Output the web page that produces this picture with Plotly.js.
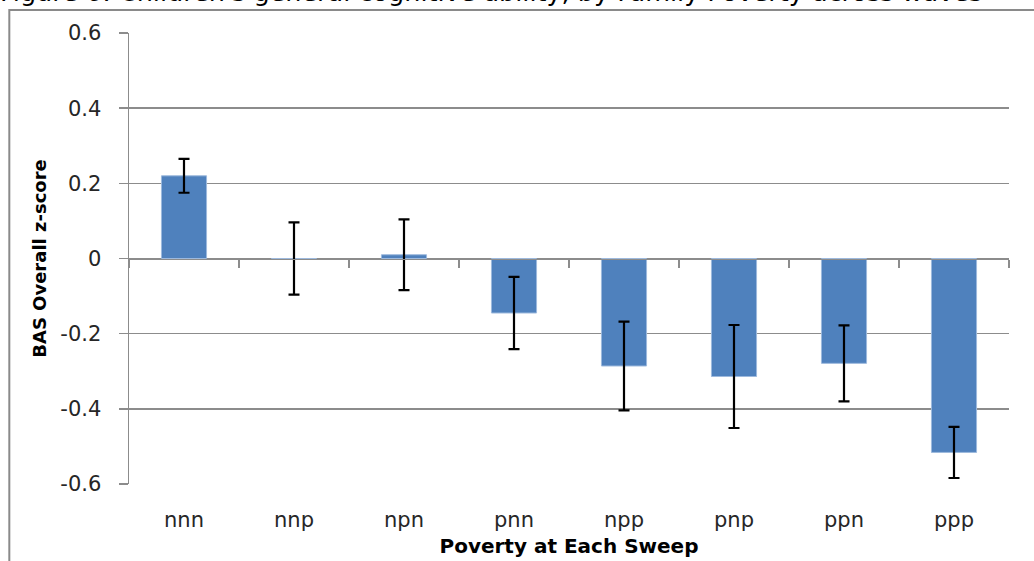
<!DOCTYPE html>
<html>
<head>
<meta charset="utf-8">
<script src="https://cdn.plot.ly/plotly-3.0.1.min.js"></script>
<style>html,body{margin:0;padding:0;background:#fff;}#chart{width:1034px;height:561px;}</style>
</head>
<body>
<div id="chart"></div>
<script>
var categories = ["nnn", "nnp", "npn", "pnn", "npp", "pnp", "ppn", "ppp"];
var zScores = [0.22, 0.0, 0.01, -0.145, -0.286, -0.314, -0.279, -0.516];
var errorHalf = [0.045, 0.096, 0.094, 0.096, 0.118, 0.137, 0.101, 0.068];
var yTicks = [-0.6, -0.4, -0.2, 0, 0.2, 0.4, 0.6];
var yTickLabels = ["-0.6", "-0.4", "-0.2", "0", "0.2", "0.4", "0.6"];

var fontFam = "DejaVu Sans, Verdana, sans-serif";
var gridCol = "#8c8c8c";

var bars = {
  type: "bar",
  x: categories,
  y: zScores,
  width: 0.41,
  marker: {color: "#4F81BD", line: {color: "#9DB9DD", width: 1}},
  error_y: {type: "data", array: errorHalf, visible: true, color: "#000", thickness: 2.2, width: 5.5},
  hoverinfo: "x+y",
  showlegend: false
};
var helper = {
  type: "scatter",
  mode: "none",
  x: categories,
  y: categories.map(function(){return 0;}),
  xaxis: "x2",
  hoverinfo: "skip",
  showlegend: false
};

var layout = {
  width: 1034, height: 561,
  margin: {l: 129, r: 25, t: 33, b: 77},
  paper_bgcolor: "#fff", plot_bgcolor: "#fff",
  title: {
    text: "Figure 6: Children's general cognitive ability, by Family Poverty across waves",
    font: {family: fontFam, size: 25.5, color: "#000"},
    xref: "container", yref: "container",
    x: 0.475, xanchor: "center",
    y: 0.9975, yanchor: "bottom"
  },
  xaxis: {
    type: "category",
    categories: categories,
    range: [-0.5, 7.5],
    showgrid: false, zeroline: false, showline: false,
    ticks: "",
    ticklabelstandoff: 21,
    tickfont: {family: fontFam, size: 21, color: "#262626"},
    title: {text: "Poverty at Each Sweep", font: {family: fontFam, size: 20, color: "#000", weight: "bold"}, standoff: 7},
    fixedrange: true
  },
  xaxis2: {
    type: "category",
    categories: categories,
    range: [-0.5, 7.5],
    overlaying: "x",
    anchor: "free",
    position: 0.5,
    side: "bottom",
    showgrid: false, zeroline: false,
    showline: true, linecolor: gridCol, linewidth: 1.5,
    ticks: "outside", tickson: "boundaries", ticklen: 8, tickcolor: gridCol, tickwidth: 1.5,
    showticklabels: false,
    fixedrange: true
  },
  yaxis: {
    range: [-0.6, 0.6],
    tickvals: yTicks,
    ticktext: yTickLabels,
    showgrid: true, gridcolor: gridCol, gridwidth: 1.5,
    zeroline: true, zerolinecolor: gridCol, zerolinewidth: 1.5,
    showline: true, linecolor: gridCol, linewidth: 1.5,
    ticks: "outside", ticklen: 9, tickcolor: gridCol, tickwidth: 1.5,
    ticklabelstandoff: 13,
    tickfont: {family: fontFam, size: 21, color: "#262626"},
    title: {text: "BAS Overall z-score", font: {family: fontFam, size: 18, color: "#000", weight: "bold"}, standoff: 9},
    fixedrange: true
  },
  shapes: [{
    type: "rect", xref: "paper", yref: "paper",
    x0: -0.136, x1: 1.04, y0: -0.25, y1: 1.051,
    line: {color: "#8a8a8a", width: 2}, fillcolor: "rgba(0,0,0,0)", layer: "below"
  }]
};

Plotly.newPlot("chart", [bars, helper], layout, {displayModeBar: false, staticPlot: true});
</script>
</body>
</html>
